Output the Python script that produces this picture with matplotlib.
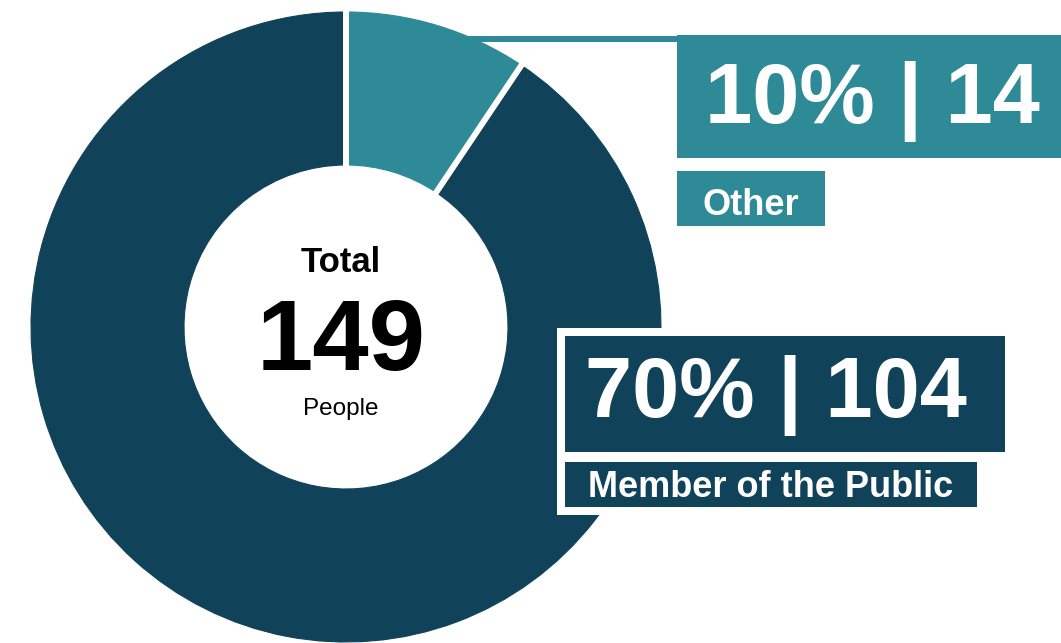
import numpy as np
import matplotlib
matplotlib.use("Agg")
import matplotlib.pyplot as plt
from matplotlib.patches import Rectangle

plt.rcParams['font.family'] = ['Liberation Sans', 'DejaVu Sans']

# data
categories = ['Other', 'Member of the Public', 'Remaining']
counts = [14, 104, 31]
pct_labels = [10, 70]
total = 149

TEAL = '#2e8a96'
NAVY = '#10425a'
colors = [TEAL, NAVY, NAVY]

W, H = 1061, 643
fig = plt.figure(figsize=(W / 100, H / 100), dpi=100)
ax = fig.add_axes([0, 0, 1, 1])

cx, cy, R, r = 346, 327, 315, 162

# connector line from the teal slice to its label (behind the donut)
ax.plot([455, 678], [39, 39], color=TEAL, lw=4.3, solid_capstyle='butt', zorder=1)

wedges, _ = ax.pie(counts, colors=colors, radius=R, center=(cx, cy),
                   startangle=-90, counterclock=True,
                   wedgeprops=dict(width=R - r, linewidth=0.8, zorder=2))
# edge in the face colour hides the seam between the navy slices
for w in wedges:
    w.set_edgecolor(w.get_facecolor())

# white gaps around the "Other" slice
fracs = np.cumsum([0] + counts) / sum(counts)
for f in fracs[:2]:
    th = np.deg2rad(-90 + 360 * f)
    ax.plot([cx + (r - 4) * np.cos(th), cx + (R + 4) * np.cos(th)],
            [cy + (r - 4) * np.sin(th), cy + (R + 4) * np.sin(th)],
            color='white', lw=4.3, solid_capstyle='butt', zorder=3)

ax.set_xlim(0, W)
ax.set_ylim(H, 0)
ax.set_aspect('auto')
ax.axis('off')

# centre text
ax.text(341, 272, 'Total', ha='center', va='baseline', fontsize=25,
        fontweight='bold', color='black', zorder=5)
ax.text(341, 370, str(total), ha='center', va='baseline', fontsize=73,
        fontweight='bold', color='black', zorder=5)
ax.text(341, 415, 'People', ha='center', va='baseline', fontsize=17.5,
        color='black', zorder=5)

# "Other" label boxes
ax.add_patch(Rectangle((677, 35), W - 677, 123, color=TEAL, lw=0, zorder=4))
ax.text(705, 123, f'{pct_labels[0]}% | {counts[0]}', ha='left', va='baseline',
        fontsize=61, fontweight='bold', color='white', zorder=5)
ax.add_patch(Rectangle((677, 171), 148, 55, color=TEAL, lw=0, zorder=4))
ax.text(702, 215, categories[0], ha='left', va='baseline', fontsize=26,
        fontweight='bold', color='white', zorder=5)

# "Member of the Public" label boxes on a white frame
ax.add_patch(Rectangle((557, 328), 456, 187, color='white', lw=0, zorder=4))
ax.add_patch(Rectangle((565, 336), 440, 116, color=NAVY, lw=0, zorder=4))
ax.text(585, 417, f'{pct_labels[1]}% | {counts[1]}', ha='left', va='baseline',
        fontsize=61, fontweight='bold', color='white', zorder=5)
ax.add_patch(Rectangle((565, 462), 412, 45, color=NAVY, lw=0, zorder=4))
ax.text(588, 497, categories[1], ha='left', va='baseline', fontsize=26,
        fontweight='bold', color='white', zorder=5)

fig.savefig('out.png', dpi=100, facecolor='white')
